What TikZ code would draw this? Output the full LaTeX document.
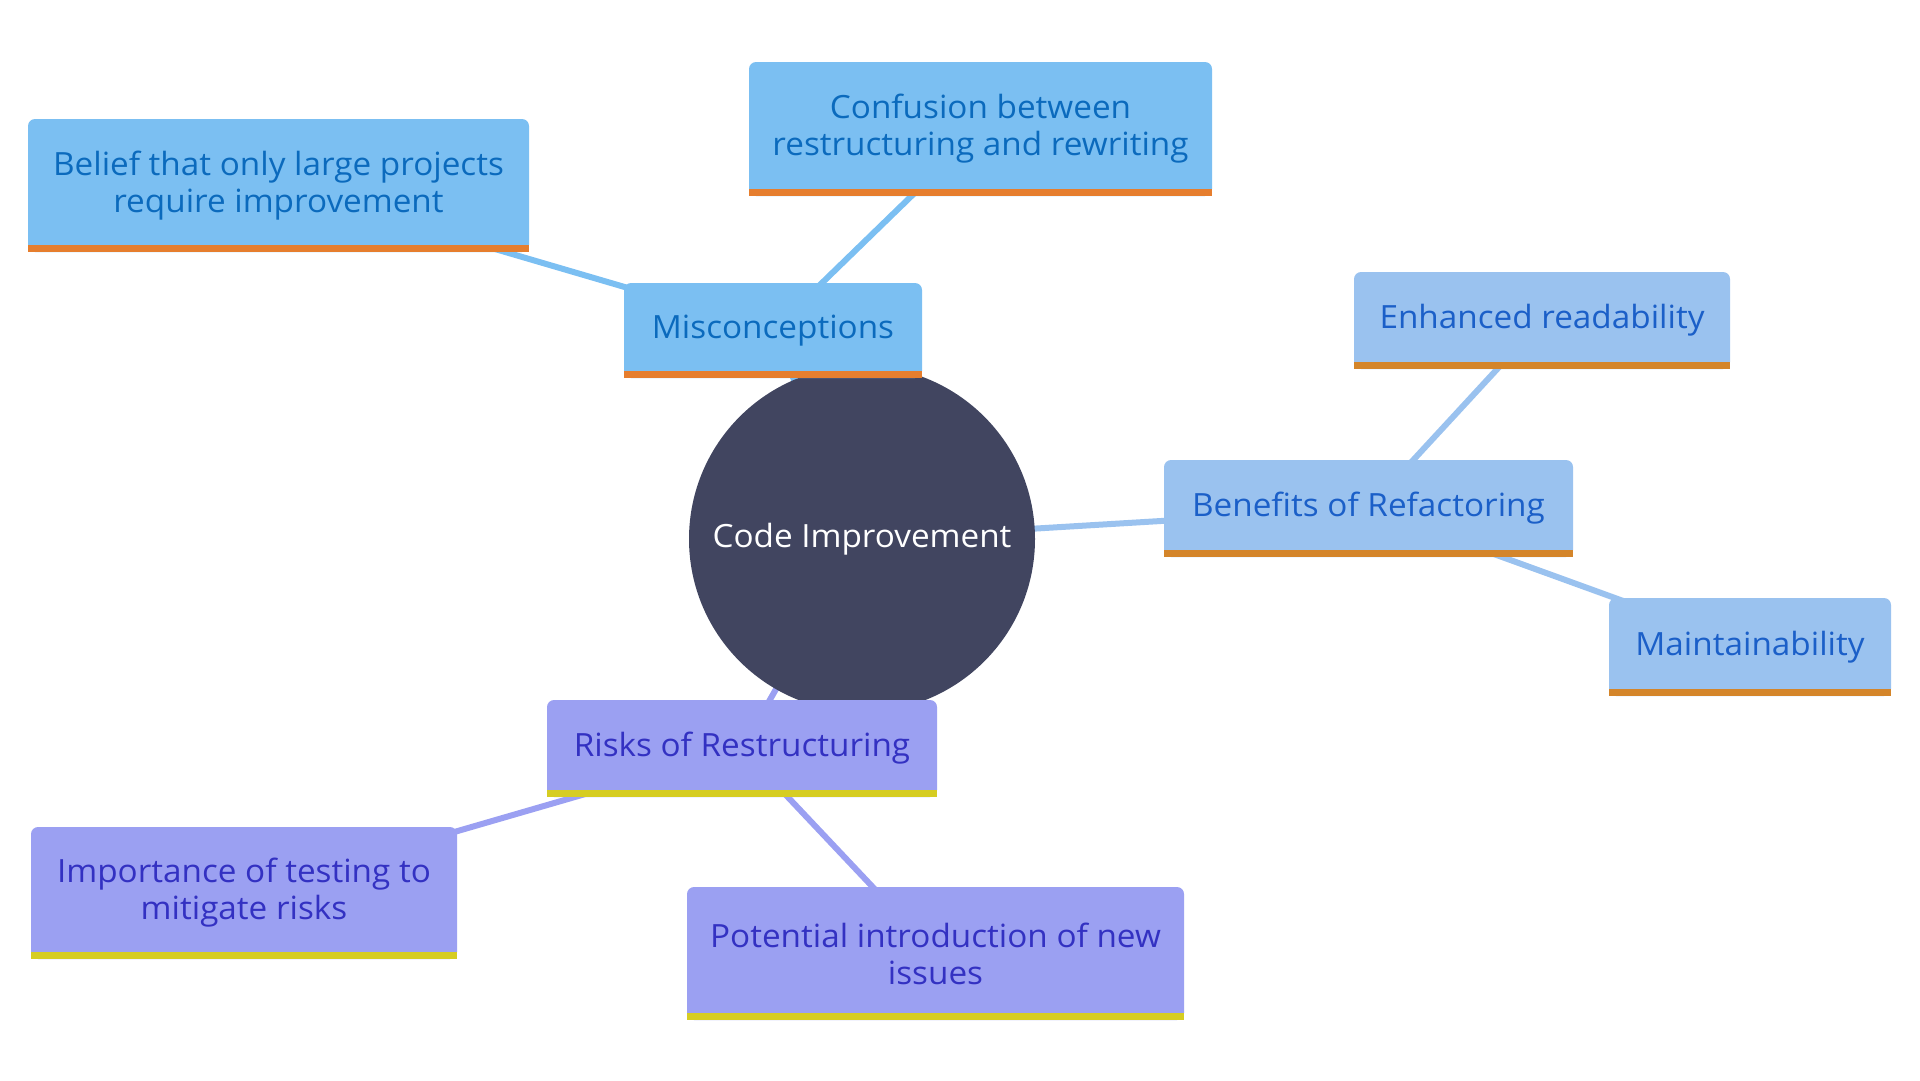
\documentclass[tikz,border=0pt]{standalone}
\usepackage{fontspec}
\setmainfont{Open Sans}[FakeStretch=1.04]
\usetikzlibrary{backgrounds}
\definecolor{mfill}{HTML}{7BBFF2}
\definecolor{mtext}{HTML}{0B6ABD}
\definecolor{mbar}{HTML}{E67E2E}
\definecolor{bfill}{HTML}{9AC2EF}
\definecolor{btext}{HTML}{1B5FC8}
\definecolor{bbar}{HTML}{D4852A}
\definecolor{rfill}{HTML}{9BA0F2}
\definecolor{rtext}{HTML}{3331C2}
\definecolor{rbar}{HTML}{D6CD22}
\definecolor{cfill}{HTML}{414560}
\tikzset{
  box/.style={rectangle, rounded corners=7pt, inner sep=0pt, align=center,
    font=\fontsize{32}{37}\selectfont},
  mbox/.style={box, fill=mfill, text=mtext},
  bbox/.style={box, fill=bfill, text=btext},
  rbox/.style={box, fill=rfill, text=rtext},
  medge/.style={draw=mfill, line width=6pt},
  bedge/.style={draw=bfill, line width=6pt},
  redge/.style={draw=rfill, line width=6pt},
}
\newcommand{\barunder}[2]{\fill[#2] ([yshift=7pt]#1.south west) rectangle (#1.south east);}
\begin{document}
\begin{tikzpicture}[x=1pt,y=-1pt]
\useasboundingbox (0,0) rectangle (1920,1080);
\node[circle, fill=cfill, minimum size=346pt, inner sep=0pt, text=white,
  font=\fontsize{32}{37}\selectfont] (root) at (862,539) {Code Improvement};

\node[mbox, minimum width=298pt, minimum height=95pt] (mis) at (773,330.5) {Misconceptions};
\node[mbox, minimum width=501pt, minimum height=133pt] (bel) at (278.5,185.5) {Belief that only large projects\\require improvement};
\node[mbox, minimum width=463pt, minimum height=134pt] (con) at (980.5,129) {Confusion between\\restructuring and rewriting};

\node[bbox, minimum width=409pt, minimum height=97pt] (ben) at (1368.5,508.5) {Benefits of Refactoring};
\node[bbox, minimum width=376pt, minimum height=97pt] (enh) at (1542,320.5) {Enhanced readability};
\node[bbox, minimum width=282pt, minimum height=98pt] (mai) at (1750,647) {Maintainability};

\node[rbox, minimum width=390pt, minimum height=97pt] (ris) at (742,748.5) {Risks of Restructuring};
\node[rbox, minimum width=426pt, minimum height=132pt] (imp) at (244,893) {Importance of testing to\\mitigate risks};
\node[rbox, minimum width=497pt, minimum height=133pt] (pot) at (935.5,953.5) {Potential introduction of new\\issues};

\barunder{mis}{mbar}
\barunder{bel}{mbar}
\barunder{con}{mbar}
\barunder{ben}{bbar}
\barunder{enh}{bbar}
\barunder{mai}{bbar}
\barunder{ris}{rbar}
\barunder{imp}{rbar}
\barunder{pot}{rbar}

\begin{scope}[on background layer]
\draw[medge] (root.center) -- (mis.center);
\draw[medge] (mis.center) -- (bel.center);
\draw[medge] (mis.center) -- (con.center);
\draw[bedge] (root.center) -- (ben.center);
\draw[bedge] (ben.center) -- (enh.center);
\draw[bedge] (ben.center) -- (mai.center);
\draw[redge] (root.center) -- (ris.center);
\draw[redge] (ris.center) -- (imp.center);
\draw[redge] (ris.center) -- (pot.center);
\end{scope}
\end{tikzpicture}
\end{document}
